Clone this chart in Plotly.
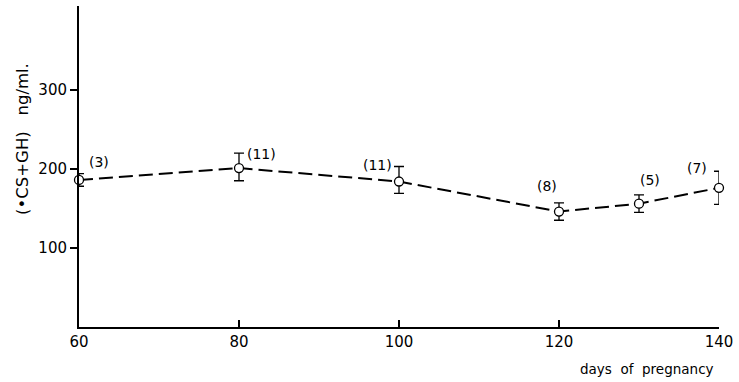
import plotly.graph_objects as go

# Days of pregnancy and mean (oCS+GH) concentration, ng/ml
days = [60, 80, 100, 120, 130, 140]
conc = [186, 201, 184, 146, 156, 176]
err_plus = [8, 19, 19, 11, 11, 21]
err_minus = [8, 16, 15, 11, 11, 21]
n_labels = ["(3)", "(11)", "(11)", "(8)", "(5)", "(7)"]

x_ticks = [60, 80, 100, 120, 140]
y_ticks = [100, 200, 300]

FONT = "DejaVu Sans"

fig = go.Figure()
fig.add_trace(go.Scatter(
    x=days, y=conc,
    mode="lines+markers",
    line=dict(color="black", width=2, dash="14px,6px"),
    marker=dict(symbol="circle", size=9, color="white",
                line=dict(color="black", width=1.3)),
    error_y=dict(type="data", symmetric=False, array=err_plus,
                 arrayminus=err_minus, color="black", thickness=1.3, width=5),
    cliponaxis=False,
    showlegend=False,
))

# sample-size labels beside each point (pixel offsets: right, up)
offsets = [(20, 18), (22, 14), (-22, 17), (-12, 26), (11, 24), (-22, 20)]
for d, c, lab, (dx, dy) in zip(days, conc, n_labels, offsets):
    fig.add_annotation(x=d, y=c, text=lab, showarrow=False,
                       xshift=dx, yshift=dy,
                       font=dict(family=FONT, size=14, color="black"))

fig.update_layout(
    width=739, height=382,
    margin=dict(l=79, r=16, t=6, b=55),
    plot_bgcolor="white", paper_bgcolor="white",
    font=dict(family=FONT, color="black"),
    xaxis=dict(range=[60, 140], tickvals=x_ticks, showline=True,
               linecolor="black", linewidth=2, ticks="inside", ticklen=7,
               tickwidth=1.5, tickcolor="black", showgrid=False, zeroline=False,
               tickfont=dict(size=15, family=FONT)),
    yaxis=dict(range=[0, 406], tickvals=y_ticks, showline=True,
               linecolor="black", linewidth=2, ticks="outside", ticklen=7,
               tickwidth=1.5, tickcolor="black", showgrid=False, zeroline=False,
               tickfont=dict(size=15, family=FONT)),
)

fig.add_annotation(xref="paper", yref="paper", x=0.888, y=-0.1,
                   text="days  of  pregnancy", showarrow=False,
                   font=dict(family=FONT, size=13.5), xanchor="center",
                   yanchor="top")
fig.add_annotation(xref="paper", yref="paper", x=-0.088, y=0.585,
                   text="(\u2022CS+GH)   ng/ml.", showarrow=False, textangle=-90,
                   font=dict(family=FONT, size=16.5), xanchor="center",
                   yanchor="middle")

fig.write_html("out.html")
